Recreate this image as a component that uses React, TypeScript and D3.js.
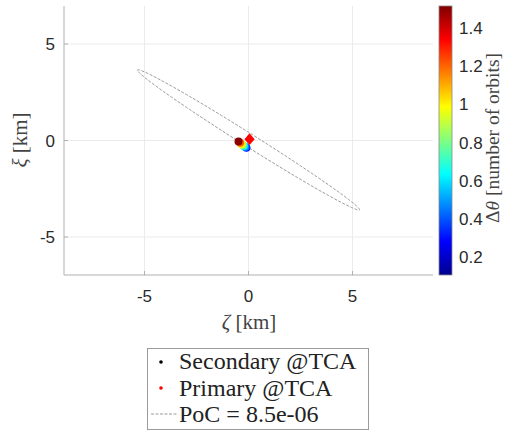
import React, { useEffect, useRef } from "react";
import * as d3 from "d3";

// relative positions over time, coloured by delta theta
const trackDTheta = [0.3, 0.45, 0.6, 0.8, 1.0, 1.2, 1.5];
const trackZeta = [-0.1, -0.15, -0.21, -0.27, -0.33, -0.4, -0.48];
const trackXi = [-0.37, -0.34, -0.3, -0.25, -0.19, -0.12, -0.05];

const secondaryAtTca = [-0.48, -0.05];
const primaryAtTca = [0.05, 0.07];

// PoC ellipse: centre, semi axes, rotation (deg)
const ellipseCentre = [0, 0.03];
const ellipseAxes = [6.45, 0.33];
const ellipseAngle = -34.2;

const xTicks = [-5, 0, 5];
const yTicks = [-5, 0, 5];
const cTicks = [0.2, 0.4, 0.6, 0.8, 1, 1.2, 1.4];
const legendLabels = ["Secondary @TCA", "Primary @TCA", "PoC = 8.5e-06"];

const jetStops = ["#00008f", "#0000ff", "#00ffff", "#ffff00", "#ff0000", "#800000"];
const jetPos = [0, 0.125, 0.375, 0.625, 0.875, 1];

const App = () => {
    const ref = useRef<SVGSVGElement>(null);

    useEffect(() => {
        const svg = d3.select(ref.current);
        svg.selectAll("*").remove();

        const left = 64, right = 433, top = 6, bottom = 275;
        const x = d3.scaleLinear().domain([-8.87, 8.87]).range([left, right]);
        const y = d3.scaleLinear().domain([-6.97, 6.97]).range([bottom, top]);
        const cDomain = [0.106, 1.515];
        const jet = d3.scaleLinear<string>().domain(jetPos).range(jetStops).interpolate(d3.interpolateRgb);
        const color = (v: number) => jet((v - cDomain[0]) / (cDomain[1] - cDomain[0]));

        const sans = "'Liberation Sans', Arial, sans-serif";
        const serif = "'Liberation Serif', 'DejaVu Serif', serif";

        // grid
        const g = svg.append("g");
        g.selectAll(".gx").data(xTicks).enter().append("line")
            .attr("x1", d => x(d)).attr("x2", d => x(d))
            .attr("y1", top).attr("y2", bottom)
            .attr("stroke", "#ebebeb").attr("stroke-width", 1);
        g.selectAll(".gy").data(yTicks).enter().append("line")
            .attr("x1", left).attr("x2", right)
            .attr("y1", d => y(d)).attr("y2", d => y(d))
            .attr("stroke", "#ebebeb").attr("stroke-width", 1);

        // axes
        svg.append("line").attr("x1", left).attr("x2", left).attr("y1", top).attr("y2", bottom)
            .attr("stroke", "#b0b0b0");
        svg.append("line").attr("x1", left).attr("x2", right).attr("y1", bottom).attr("y2", bottom)
            .attr("stroke", "#b0b0b0");
        svg.selectAll(".tx").data(xTicks).enter().append("line")
            .attr("x1", d => x(d)).attr("x2", d => x(d)).attr("y1", bottom).attr("y2", bottom - 4)
            .attr("stroke", "#b0b0b0");
        svg.selectAll(".ty").data(yTicks).enter().append("line")
            .attr("x1", left).attr("x2", left + 4).attr("y1", d => y(d)).attr("y2", d => y(d))
            .attr("stroke", "#b0b0b0");

        svg.selectAll(".lx").data(xTicks).enter().append("text")
            .attr("x", d => x(d)).attr("y", 302)
            .attr("text-anchor", "middle")
            .style("font-family", sans).style("font-size", "17px").style("fill", "#2a2a2a")
            .text(d => d);
        svg.selectAll(".ly").data(yTicks).enter().append("text")
            .attr("x", 55).attr("y", d => y(d) + 6)
            .attr("text-anchor", "end")
            .style("font-family", sans).style("font-size", "17px").style("fill", "#2a2a2a")
            .text(d => d);

        svg.append("text").attr("x", 249).attr("y", 329).attr("text-anchor", "middle")
            .style("font-family", serif).style("font-size", "21px").style("fill", "#444")
            .html("<tspan font-style='italic'>ζ</tspan>  [km]");
        svg.append("text").attr("transform", "translate(27,140) rotate(-90)").attr("text-anchor", "middle")
            .style("font-family", serif).style("font-size", "21px").style("fill", "#444")
            .html("<tspan font-style='italic'>ξ</tspan> [km]");

        // ellipse
        const [a, b] = ellipseAxes;
        const th = (ellipseAngle * Math.PI) / 180;
        const angles = d3.range(0, 361, 2).map(d => (d * Math.PI) / 180);
        const line = d3.line<number>()
            .x(t => x(ellipseCentre[0] + a * Math.cos(t) * Math.cos(th) - b * Math.sin(t) * Math.sin(th)))
            .y(t => y(ellipseCentre[1] + a * Math.cos(t) * Math.sin(th) + b * Math.sin(t) * Math.cos(th)));
        svg.append("path").attr("d", line(angles))
            .attr("fill", "none").attr("stroke", "#9a9a9a").attr("stroke-width", 1)
            .attr("stroke-dasharray", "3,1.5");

        // markers
        svg.append("circle").attr("cx", x(secondaryAtTca[0])).attr("cy", y(secondaryAtTca[1]))
            .attr("r", 2.5).attr("fill", "#000");
        svg.selectAll(".trk").data(trackDTheta).enter().append("circle")
            .attr("cx", (d, i) => x(trackZeta[i])).attr("cy", (d, i) => y(trackXi[i]))
            .attr("r", 4).attr("fill", d => color(d));
        const sym = d3.symbol().type(d3.symbolDiamond).size(40);
        svg.append("path").attr("d", sym())
            .attr("transform", `translate(${x(primaryAtTca[0])},${y(primaryAtTca[1])}) scale(1.5,1)`)
            .attr("fill", "#ff0000");

        // colorbar
        const cb = d3.scaleLinear().domain(cDomain).range([bottom, top]);
        const defs = svg.append("defs");
        const grad = defs.append("linearGradient").attr("id", "jet")
            .attr("x1", 0).attr("y1", 1).attr("x2", 0).attr("y2", 0);
        grad.selectAll("stop").data(jetPos).enter().append("stop")
            .attr("offset", d => d).attr("stop-color", (d, i) => jetStops[i]);
        svg.append("rect").attr("x", 439).attr("y", top).attr("width", 13).attr("height", bottom - top)
            .attr("fill", "url(#jet)").attr("stroke", "#8a8a8a").attr("stroke-width", 0.8);
        svg.selectAll(".cl").data(cTicks).enter().append("text")
            .attr("x", 459).attr("y", d => cb(d) + 6)
            .style("font-family", sans).style("font-size", "17px").style("fill", "#2a2a2a")
            .text(d => d);
        svg.append("text").attr("transform", "translate(499,138) rotate(-90)").attr("text-anchor", "middle")
            .style("font-family", serif).style("font-size", "19.5px").style("fill", "#444")
            .html("Δ<tspan font-style='italic'>θ</tspan> [number of orbits]");

        // legend
        const lg = svg.append("g");
        lg.append("rect").attr("x", 147.5).attr("y", 348.5).attr("width", 221).attr("height", 81)
            .attr("fill", "#fff").attr("stroke", "#9a9a9a");
        lg.selectAll(".lt").data(legendLabels).enter().append("text")
            .attr("x", 179).attr("y", (d, i) => 369 + i * 26.5)
            .style("font-family", serif).style("font-size", "24px").style("fill", "#222")
            .text(d => d);
        lg.append("circle").attr("cx", 161).attr("cy", 362).attr("r", 1.8).attr("fill", "#000");
        lg.append("circle").attr("cx", 161).attr("cy", 388).attr("r", 1.8).attr("fill", "#ff0000");
        lg.append("line").attr("x1", 151).attr("x2", 177).attr("y1", 414).attr("y2", 414)
            .attr("stroke", "#9a9a9a").attr("stroke-dasharray", "3,1.5");
    }, []);

    return <svg ref={ref} width={508} height={431}
        style={{ position: "absolute", left: 0, top: 0, background: "#fff" }} />;
};

export default App;
